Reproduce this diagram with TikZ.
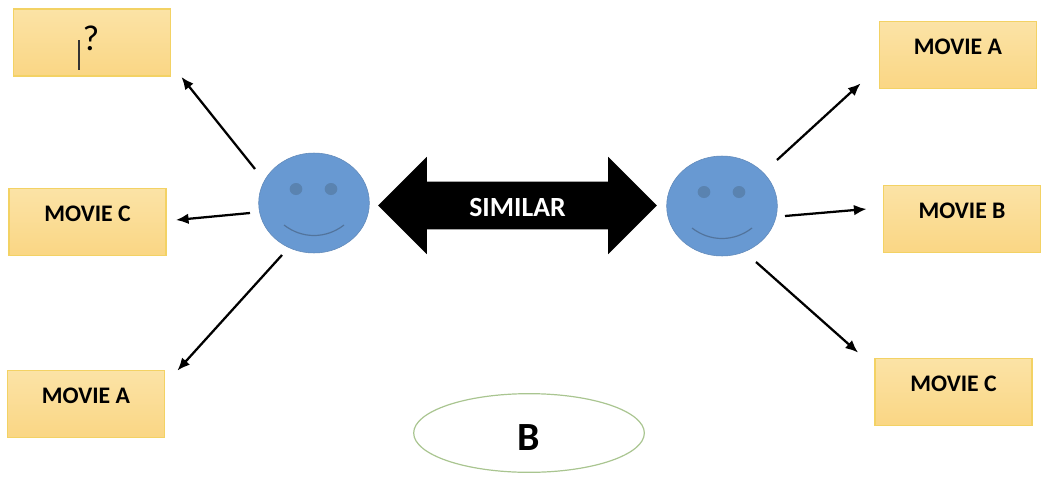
\documentclass[tikz,border=0pt]{standalone}
\usepackage{fontspec}
\setmainfont{Carlito}
\usetikzlibrary{shapes.geometric,shapes.arrows,arrows.meta}
\definecolor{boxtop}{HTML}{FBE3A6}
\definecolor{boxbot}{HTML}{FAD684}
\definecolor{boxline}{HTML}{F3D264}
\definecolor{facefill}{HTML}{6899D2}
\definecolor{faceline}{HTML}{6088B8}
\definecolor{eyefill}{HTML}{5A83B0}
\definecolor{ovalline}{HTML}{A9C590}
\begin{document}
\begin{tikzpicture}[x=0.75pt, y=-0.75pt,
    moviebox/.style = {draw=boxline, line width=1.1pt, top color=boxtop, bottom color=boxbot, minimum width=118pt, minimum height=50.5pt, inner sep=0pt, font=\fontsize{17.8}{20}\selectfont\bfseries, text height=8pt, text depth=9.5pt},
    face/.style = {draw=faceline, fill=facefill, ellipse, minimum width=83pt, minimum height=75pt, inner sep=0pt},
    eye/.style = {fill=eyefill, ellipse, minimum width=9.5pt, minimum height=9pt, inner sep=0pt},
    link/.style = {-{Latex[length=9.5pt,width=8pt]}, line width=1.7pt, black}]
    \useasboundingbox (0,0) rectangle (1052,482);
    % left side
    \node[moviebox] (boxQ) at (92,42.5) {};
    \node[moviebox] (leftC) at (87.5,222) {MOVIE C};
    \node[moviebox] (leftA) at (86,404) {MOVIE A};
    \node[font=\fontsize{27}{30}\selectfont] (quest) at (91,38) {?};
    \node[inner sep=0pt, minimum size=0pt] (cursor) at (79,55) {};
    \draw[black!80, line width=0.8pt] ([yshift=-11]cursor.center) -- ([yshift=11]cursor.center);
    % right side
    \node[moviebox] (rightA) at (958,55) {MOVIE A};
    \node[moviebox] (rightB) at (962,219) {MOVIE B};
    \node[moviebox] (rightC) at (953.5,392) {MOVIE C};
    % faces
    \node[face] (faceL) at (314,203) {};
    \node[face] (faceR) at (722,206) {};
    \foreach \f in {faceL,faceR} {
        \node[eye] (\f eyeA) at ([shift={(-18,-14)}]\f.center) {};
        \node[eye] (\f eyeB) at ([shift={(17,-14)}]\f.center) {};
        \draw[faceline!85!black, line width=0.9pt] ([shift={(-30,22)}]\f.center) .. controls ([shift={(-12,36)}]\f.center) and ([shift={(12,36)}]\f.center) .. ([shift={(30,22)}]\f.center);
    }
    % middle
    \node[double arrow, fill=black, text=white, minimum width=73pt, minimum height=209pt, double arrow head extend=18.5pt, double arrow tip angle=90, inner sep=0pt, text height=26.2pt, text depth=9.05pt, font=\fontsize{20.8}{22}\selectfont\bfseries] (similar) at (517.5,205.5) {SIMILAR};
    \node[draw=ovalline, line width=0.9pt, ellipse, minimum width=173pt, minimum height=59pt, inner sep=0pt, text height=25.5pt, text depth=0pt, font=\fontsize{30}{32}\selectfont\bfseries] (groupB) at (529,433) {B};
    % arrows
    \draw[link] ([shift={(-59,-34)}]faceL.center) -- ([shift={(10,0)}]boxQ.south east);
    \draw[link] ([shift={(-64,10)}]faceL.center) -- ([shift={(9,-2)}]leftC.east);
    \draw[link] ([shift={(-32,52)}]faceL.center) -- ([shift={(12,1)}]leftA.north east);
    \draw[link] ([shift={(55,-46)}]faceR.center) -- ([shift={(-18,-6)}]rightA.south west);
    \draw[link] ([shift={(63,10)}]faceR.center) -- ([shift={(-16,-10)}]rightB.west);
    \draw[link] ([shift={(34,56)}]faceR.center) -- ([shift={(-16,-5)}]rightC.north west);
\end{tikzpicture}
\end{document}
